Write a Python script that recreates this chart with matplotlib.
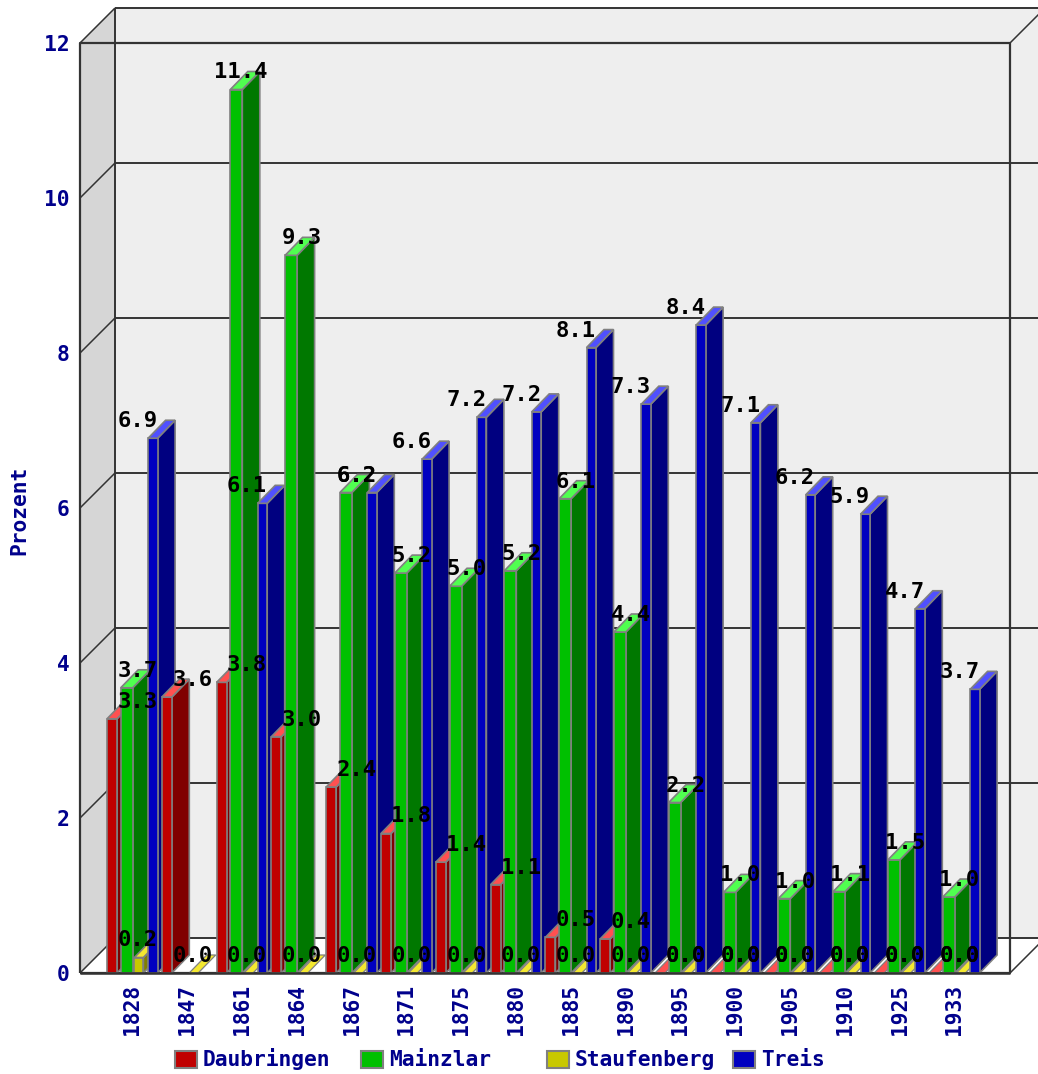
import numpy as np
import matplotlib
matplotlib.use('Agg')
import matplotlib.pyplot as plt
from matplotlib.patches import Polygon, Rectangle

nan = float('nan')
years = ['1828', '1847', '1861', '1864', '1867', '1871', '1875', '1880',
         '1885', '1890', '1895', '1900', '1905', '1910', '1925', '1933']
names = ['Daubringen', 'Mainzlar', 'Staufenberg', 'Treis']
# heights, printed labels round them to one decimal
daubringen = [3.28, 3.56, 3.75, 3.05, 2.4, 1.8, 1.43, 1.14, 0.46, 0.44, 0.0, 0.0, 0.0, 0.0, 0.0, 0.0]
mainzlar = [3.68, nan, 11.4, 9.26, 6.2, 5.16, 4.99, 5.19, 6.12, 4.4, 2.2, 1.04, 0.96, 1.05, 1.46, 0.98]
staufenberg = [0.2, 0.0, 0.0, 0.0, 0.0, 0.0, 0.0, 0.0, 0.0, 0.0, 0.0, 0.0, 0.0, 0.0, 0.0, 0.0]
treis = [6.9, nan, 6.06, nan, 6.2, 6.63, 7.17, 7.24, 8.07, 7.34, 8.36, 7.1, 6.17, 5.92, 4.7, 3.66]
series = [daubringen, mainzlar, staufenberg, treis]

front = ['#c00000', '#00c000', '#c8c800', '#0000c0']
top = ['#ff5050', '#50ff50', '#f4e830', '#5050ff']
side = ['#800000', '#007800', '#808000', '#000080']
bar_px = [10, 12, 9, 9.5]  # front widths differ a little per series

W, H = 1038, 1074
navy = '#00008c'
edge = '#808080'
dark = '#333333'

# front plane of the box in pixels
L, R, T, B = 80, 1010, 43, 973
px_x = 54.8  # pixels per category
px_y = (B - T) / 12.0
box_dx, box_dy = 35 / px_x, 35 / px_y
bar_dx, bar_dy = 17.5 / px_x, 18 / px_y
stride = 13.7 / px_x

fig = plt.figure(figsize=(W / 100, H / 100), dpi=100)
ax = fig.add_axes([L / W, 1 - B / H, (R - L) / W, (B - T) / H])
ax.set_xlim(-27 / px_x, (R - 107) / px_x)
ax.set_ylim(0, 12)
x0, x1 = ax.get_xlim()
for s in ax.spines.values():
    s.set_visible(False)
ax.patch.set_visible(False)


def poly(pts, color, ec='none', lw=0, z=1):
    ax.add_patch(Polygon(pts, closed=True, fc=color, ec=ec, lw=lw, zorder=z,
                         clip_on=False, joinstyle='miter'))


def line(xs, ys, lw=1.4, z=2):
    ax.plot(xs, ys, color=dark, lw=lw, zorder=z, clip_on=False, solid_capstyle='butt')


# walls
poly([(x0, 0), (x0 + box_dx, box_dy), (x0 + box_dx, 12 + box_dy), (x0, 12)], '#d6d6d6')
poly([(x0 + box_dx, box_dy), (x1 + box_dx, box_dy), (x1 + box_dx, 12 + box_dy),
      (x0 + box_dx, 12 + box_dy)], '#eeeeee')
poly([(x0, 0), (x1, 0), (x1 + box_dx, box_dy), (x0 + box_dx, box_dy)], '#ffffff')

for v in range(0, 13, 2):
    line([x0, x0 + box_dx], [v, v + box_dy], lw=1.1)
    line([x0 + box_dx, x1 + box_dx], [v + box_dy, v + box_dy])
line([x1, x1 + box_dx], [0, box_dy], lw=1.1)
line([x1, x1 + box_dx], [12, 12 + box_dy], lw=1.1)
line([x0 + box_dx, x0 + box_dx], [box_dy, 12 + box_dy])
line([x0, x1, x1, x0, x0], [0, 0, 12, 12, 0], lw=1.6)

# bars, back to front by category then series
z = 3
for i in range(len(years)):
    for k, vals in enumerate(series):
        v = vals[i]
        if np.isnan(v):
            continue
        a = i + k * stride
        b = a + bar_px[k] / px_x
        if v > 0:
            poly([(b, 0), (b + bar_dx, bar_dy), (b + bar_dx, v + bar_dy), (b, v)],
                 side[k], edge, 1.2, z)
            poly([(a, 0), (b, 0), (b, v), (a, v)], front[k], edge, 1.2, z)
        poly([(a, v), (b, v), (b + bar_dx, v + bar_dy), (a + bar_dx, v + bar_dy)],
             top[k], edge, 1.2 if v > 0 else 0.9, z)
        z += 1
line([x0, x1], [0, 0], lw=1.8, z=z)

# value labels sit above the bars, all centred on one x for the category
for i in range(len(years)):
    for k, vals in enumerate(series):
        v = vals[i]
        if np.isnan(v):
            continue
        txt = '%.1f' % v
        off = 30.5 if len(txt) == 3 else 24.5
        ax.text(i + off / px_x, v + 17 / px_y, txt, ha='center', va='center',
                family='DejaVu Sans Mono', fontweight='bold', fontsize=16,
                color='black', zorder=z + 1, clip_on=False)

ax.set_xticks(np.arange(len(years)) + 25.5 / px_x)
ax.set_xticklabels(years, rotation=90, family='DejaVu Sans Mono', fontweight='bold',
                   fontsize=15.3, color=navy)
ax.set_yticks(range(0, 13, 2))
ax.set_yticklabels([str(v) for v in range(0, 13, 2)], family='DejaVu Sans Mono',
                   fontweight='bold', fontsize=15.3, color=navy)
ax.tick_params(axis='both', length=0)
ax.tick_params(axis='x', pad=8)
ax.tick_params(axis='y', pad=7.5)
ax.set_ylabel('Prozent', family='DejaVu Sans Mono', fontweight='bold', fontsize=15.3,
              color=navy, va='center')
ax.yaxis.set_label_coords((19 - L) / (R - L), (B - 510) / (B - T))

# legend
for k, name in enumerate(names):
    lx = 175 + 186 * k
    fig.add_artist(Rectangle((lx / W, 1 - 1068 / H), 22 / W, 17 / H, fc=front[k], ec=edge,
                             lw=1.5, transform=fig.transFigure))
    fig.text((lx + 28) / W, 1 - 1059.5 / H, name, ha='left', va='center',
             family='DejaVu Sans Mono', fontweight='bold', fontsize=15.3, color=navy)

fig.savefig('out.png', dpi=100, facecolor='white')
